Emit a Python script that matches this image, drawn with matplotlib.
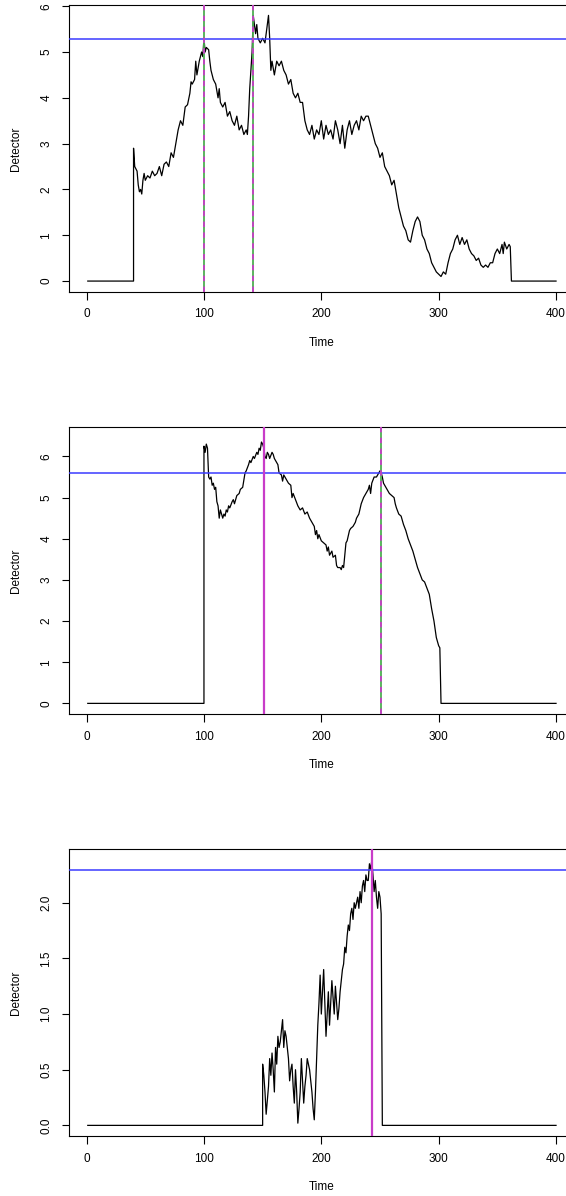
import matplotlib
matplotlib.use("Agg")
import matplotlib.pyplot as plt

plt.rcParams['font.family'] = ['Liberation Sans', 'DejaVu Sans']

# ---------------- data ----------------
t1 = [1, 40, 40, 41, 42, 43, 44, 45, 46, 47, 48, 49, 50, 52, 54, 56, 58, 60, 62, 64, 66, 68, 70, 72, 74, 76, 78, 80,
      82, 84, 86, 88, 89, 90, 92, 93, 94, 96, 98, 99, 100, 101, 102, 104, 105, 106, 108, 110, 112, 113, 114, 116, 118,
      120, 122, 124, 126, 128, 130, 132, 134, 136, 137, 138, 139, 140, 141, 142, 143, 144, 145, 146, 148, 150, 152,
      153, 155, 156, 157, 158, 160, 162, 164, 166, 168, 170, 172, 174, 176, 178, 180, 182, 184, 186, 188, 190, 192,
      194, 196, 198, 200, 202, 204, 206, 208, 210, 212, 214, 216, 218, 220, 222, 224, 226, 228, 230, 232, 234, 236,
      238, 240, 242, 244, 246, 248, 250, 252, 254, 256, 258, 260, 262, 264, 266, 268, 270, 272, 274, 276, 278, 280,
      282, 284, 286, 288, 290, 292, 294, 296, 298, 300, 302, 304, 306, 308, 310, 312, 314, 316, 318, 320, 322, 324,
      326, 328, 330, 332, 334, 336, 338, 340, 342, 344, 346, 348, 350, 352, 354, 355, 356, 358, 360, 361, 362, 400]
v1 = [0, 0, 2.9, 2.5, 2.45, 2.4, 2.1, 1.95, 2.0, 1.9, 2.2, 2.35, 2.2, 2.3, 2.25, 2.4, 2.3, 2.35, 2.5, 2.3, 2.55, 2.6,
      2.5, 2.8, 2.7, 3.0, 3.3, 3.5, 3.4, 3.8, 3.85, 4.1, 4.35, 4.3, 4.4, 4.8, 4.5, 4.8, 5.0, 4.9, 5.3, 5.0, 5.1, 5.05,
      4.8, 4.6, 4.4, 4.3, 4.0, 4.2, 3.9, 3.8, 3.9, 3.6, 3.7, 3.5, 3.4, 3.6, 3.3, 3.4, 3.2, 3.3, 3.2, 3.6, 4.2, 4.6, 5.0,
      5.8, 5.6, 5.4, 5.6, 5.3, 5.2, 5.3, 5.2, 5.4, 5.8, 5.3, 4.6, 4.8, 4.5, 4.8, 4.7, 4.8, 4.6, 4.5, 4.3, 4.4, 4.1, 4.0,
      4.1, 3.9, 3.9, 3.5, 3.3, 3.2, 3.4, 3.1, 3.3, 3.2, 3.5, 3.1, 3.4, 3.2, 3.3, 3.1, 3.5, 3.3, 3.0, 3.4, 2.9, 3.3, 3.5,
      3.2, 3.4, 3.5, 3.3, 3.6, 3.5, 3.6, 3.6, 3.4, 3.2, 3.0, 2.9, 2.7, 2.8, 2.5, 2.4, 2.3, 2.1, 2.2, 1.9, 1.6, 1.4, 1.2,
      1.1, 0.9, 0.85, 1.1, 1.3, 1.4, 1.3, 1.0, 0.9, 0.7, 0.6, 0.4, 0.3, 0.2, 0.15, 0.1, 0.2, 0.15, 0.4, 0.6, 0.7, 0.9,
      1.0, 0.8, 0.95, 0.8, 0.9, 0.7, 0.6, 0.55, 0.45, 0.5, 0.35, 0.3, 0.35, 0.3, 0.4, 0.4, 0.6, 0.7, 0.6, 0.8, 0.6,
      0.85, 0.7, 0.8, 0.75, 0, 0]

t2 = [1, 100, 100, 101, 102, 103, 104, 105, 106, 107, 108, 109, 110, 111, 112, 113, 114, 115, 116, 117, 118, 119, 120,
      121, 122, 124, 125, 126, 128, 130, 131, 133, 135, 136, 138, 139, 140, 142, 143, 145, 146, 147, 148, 149, 150,
      151, 152, 153, 154, 155, 156, 158, 159, 160, 161, 163, 164, 166, 167, 168, 170, 172, 174, 175, 176, 178, 180,
      182, 184, 186, 188, 190, 192, 194, 195, 196, 197, 198, 200, 202, 204, 205, 206, 207, 209, 210, 212, 213, 214,
      216, 217, 218, 219, 220, 221, 222, 224, 225, 227, 229, 230, 232, 234, 236, 238, 240, 241, 242, 243, 245, 247,
      249, 250, 251, 252, 253, 254, 256, 258, 260, 262, 263, 264, 266, 268, 270, 272, 274, 276, 278, 280, 282, 284,
      286, 288, 290, 292, 294, 296, 297, 298, 299, 300, 301, 302, 400]
v2 = [0, 0, 6.25, 6.1, 6.3, 6.2, 5.5, 5.45, 5.5, 5.3, 5.35, 5.2, 5.25, 4.9, 4.8, 4.5, 4.7, 4.6, 4.5, 4.6, 4.55, 4.7,
      4.65, 4.8, 4.75, 4.9, 4.95, 4.85, 5.05, 5.1, 5.2, 5.25, 5.6, 5.65, 5.8, 5.9, 5.85, 6.0, 5.95, 6.1, 6.05, 6.2,
      6.15, 6.35, 6.3, 6.2, 6.0, 5.95, 6.1, 6.05, 5.95, 6.1, 6.05, 5.95, 5.9, 5.8, 5.6, 5.55, 5.4, 5.55, 5.45, 5.35,
      5.3, 5.0, 5.1, 4.95, 4.8, 4.7, 4.75, 4.6, 4.65, 4.5, 4.4, 4.3, 4.1, 4.2, 4.0, 4.1, 3.95, 3.9, 3.85, 3.7, 3.8,
      3.6, 3.7, 3.55, 3.6, 3.35, 3.3, 3.3, 3.25, 3.35, 3.3, 3.6, 3.9, 3.95, 4.2, 4.25, 4.3, 4.4, 4.5, 4.6, 4.85, 5.0,
      5.1, 5.2, 5.3, 5.1, 5.35, 5.5, 5.5, 5.6, 5.65, 5.6, 5.5, 5.35, 5.3, 5.2, 5.1, 5.05, 5.0, 4.85, 4.75, 4.6, 4.55,
      4.35, 4.2, 4.0, 3.85, 3.7, 3.5, 3.3, 3.15, 3.0, 2.95, 2.8, 2.65, 2.3, 2.0, 1.8, 1.6, 1.5, 1.4, 1.35, 0, 0]

t3 = [1, 150, 150, 151, 152, 153, 155, 156, 157, 158, 159, 160, 161, 162, 163, 164, 165, 166, 167, 168, 169, 170, 171,
      172, 173, 174, 175, 176, 177, 178, 179, 180, 181, 182, 183, 184, 185, 186, 187, 188, 189, 190, 191, 192, 193,
      194, 195, 196, 197, 198, 199, 200, 201, 202, 203, 204, 205, 206, 207, 208, 209, 210, 211, 212, 213, 214, 215,
      216, 217, 218, 219, 220, 221, 222, 223, 224, 225, 226, 227, 228, 229, 230, 231, 232, 233, 234, 235, 236, 237,
      238, 239, 240, 241, 242, 243, 244, 245, 246, 247, 248, 249, 250, 251, 252, 400]
v3 = [0, 0, 0.55, 0.45, 0.3, 0.1, 0.35, 0.6, 0.45, 0.65, 0.5, 0.3, 0.7, 0.55, 0.8, 0.7, 0.75, 0.85, 0.95, 0.7, 0.85,
      0.8, 0.7, 0.6, 0.4, 0.5, 0.55, 0.35, 0.2, 0.5, 0.3, 0.02, 0.15, 0.3, 0.6, 0.4, 0.2, 0.35, 0.45, 0.6, 0.55, 0.5,
      0.4, 0.3, 0.15, 0.05, 0.3, 0.6, 0.9, 1.1, 1.35, 1.0, 1.2, 1.4, 1.1, 0.8, 1.0, 1.2, 0.9, 1.1, 1.3, 1.15, 1.0,
      1.25, 1.1, 0.95, 1.05, 1.2, 1.3, 1.4, 1.45, 1.6, 1.55, 1.7, 1.8, 1.75, 1.9, 1.95, 1.85, 2.0, 1.95, 2.0, 2.05,
      1.95, 2.1, 2.0, 2.15, 2.2, 2.1, 2.25, 2.2, 2.2, 2.35, 2.3, 2.38, 2.25, 2.1, 2.2, 2.05, 1.95, 2.1, 2.05, 1.9, 0, 0]

hline_vals = [5.29, 5.59, 2.29]
vlines_dashed = [[100, 142], [251], []]      # green under magenta dashed
vlines_solid = [[], [151], [243]]            # magenta solid
yticks_list = [[0, 1, 2, 3, 4, 5, 6], [0, 1, 2, 3, 4, 5, 6], [0.0, 0.5, 1.0, 1.5, 2.0]]
ytick_labels = [["0", "1", "2", "3", "4", "5", "6"], ["0", "1", "2", "3", "4", "5", "6"],
                ["0.0", "0.5", "1.0", "1.5", "2.0"]]
xticks = [0, 100, 200, 300, 400]
ylims = [(-0.232, 6.02), (-0.258, 6.708), (-0.0954, 2.48)]
series = [(t1, v1), (t2, v2), (t3, v3)]

# ---------------- figure ----------------
W, H = 566, 1196
fig = plt.figure(figsize=(W / 100, H / 100), dpi=100)

left_px, right_px = 69.0, 574.8
frames = [(5.3, 291.7), (427.3, 714.0), (849.3, 1136.0)]

for i, (top_px, bot_px) in enumerate(frames):
    ax = fig.add_axes([left_px / W, 1 - bot_px / H, (right_px - left_px) / W, (bot_px - top_px) / H])
    t, v = series[i]
    ax.plot(t, v, color='black', lw=0.9, zorder=3)
    ax.axhline(hline_vals[i], color='#3a3aff', lw=1.1, zorder=4)
    for xv in vlines_dashed[i]:
        ax.axvline(xv, color='#4caf50', lw=1.3, zorder=4)
        ax.axvline(xv, color='#c83cc8', lw=1.3, ls=(0, (3, 3)), zorder=5)
    for xv in vlines_solid[i]:
        ax.axvline(xv, color='#c83cc8', lw=1.6, zorder=5)
    ax.set_xlim(-15, 416)
    ax.set_ylim(*ylims[i])
    ax.set_xticks(xticks)
    ax.set_xticklabels([str(x) for x in xticks])
    ax.set_yticks(yticks_list[i])
    ax.set_yticklabels(ytick_labels[i], rotation=90, va='center')
    ax.tick_params(direction='out', length=5.4, width=0.8, labelsize=8.5, pad=6.5, color='black')
    for s in ax.spines.values():
        s.set_linewidth(0.8)
        s.set_color('black')
    hpx = bot_px - top_px
    wpx = right_px - left_px
    ax.text(0.5, -51 / hpx, "Time", transform=ax.transAxes, ha='center', va='center', fontsize=8.5)
    ax.text(-(left_px - 16) / wpx, 0.5, "Detector", transform=ax.transAxes, ha='center', va='center',
            rotation=90, fontsize=8.5)

fig.savefig("out.png", dpi=100)
